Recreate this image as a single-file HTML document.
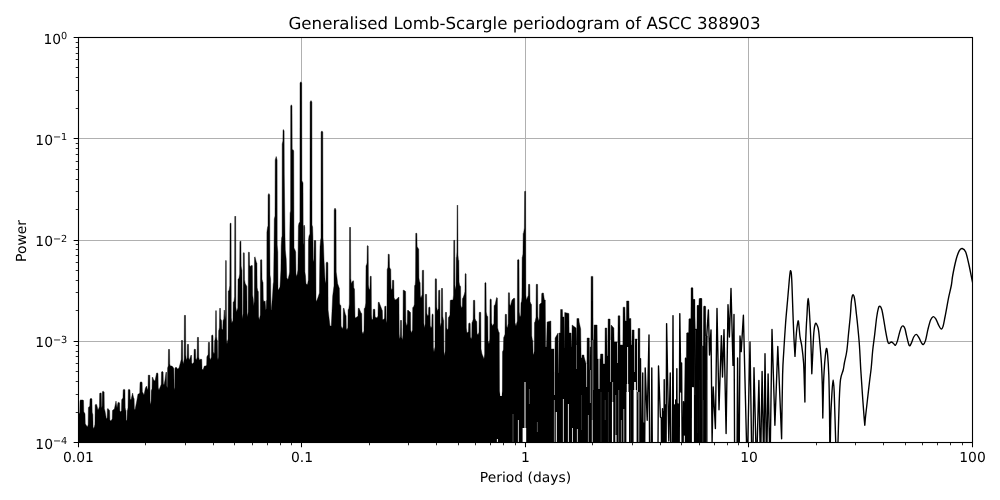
<!DOCTYPE html>
<html lang="en">
<head>
<meta charset="utf-8">
<title>Generalised Lomb-Scargle periodogram of ASCC 388903</title>
<style>
html,body{margin:0;padding:0;background:#fff;overflow:hidden}
svg{display:block;filter:grayscale(1)}
</style>
</head>
<body>
<svg width="1000" height="500" viewBox="0 0 1000 500">
<defs><clipPath id="ax"><rect x="78.5" y="37.5" width="894.0" height="405.0"/></clipPath></defs>
<rect width="1000" height="500" fill="#fff"/>
<path d="M78.50 37.5V442.5M301.50 37.5V442.5M525.50 37.5V442.5M748.50 37.5V442.5M972.50 37.5V442.5M78.5 442.50H972.5M78.5 341.50H972.5M78.5 240.50H972.5M78.5 138.50H972.5M78.5 37.50H972.5" stroke="#b0b0b0" stroke-width="1" fill="none"/>
<g clip-path="url(#ax)">
<path d="M78.40 447.5L78.40 419.00L79.00 414.00L79.76 412.32L80.00 400.50L80.60 400.00L83.00 400.00L83.51 400.50L83.75 411.44L84.40 413.00L85.00 413.50L85.24 423.56L86.00 425.00L87.40 427.00L88.16 424.60L88.40 407.50L89.00 407.00L89.76 405.99L90.00 399.10L90.60 398.60L91.60 398.60L91.93 399.10L92.17 412.15L92.60 414.00L92.84 414.50L93.08 426.67L93.40 428.40L94.40 427.00L94.94 424.29L95.18 404.90L95.60 404.40L96.60 404.40L98.00 410.00L99.00 408.00L99.43 406.20L99.67 393.50L100.00 393.00L101.00 393.00L101.24 393.50L101.48 406.20L101.80 408.00L102.12 406.01L102.36 391.90L102.60 391.40L103.60 391.40L104.11 391.90L104.35 408.65L105.00 411.00L106.40 419.00L107.16 417.73L107.40 408.90L108.00 408.40L109.00 410.00L109.60 410.50L109.84 419.68L110.60 421.00L111.60 420.00L112.25 418.80L112.49 410.50L113.00 410.00L114.40 409.00L116.00 401.00L117.00 408.00L118.00 402.40L119.00 402.40L119.60 402.90L119.84 410.85L120.60 412.00L121.47 410.44L121.71 399.50L122.40 399.00L122.94 397.85L123.18 389.90L123.60 389.40L124.60 389.40L124.93 389.90L125.17 407.53L125.60 410.00L125.93 410.50L126.17 419.68L126.60 421.00L127.03 419.68L127.27 410.50L127.60 410.00L128.03 407.53L128.27 389.90L128.60 389.40L129.40 389.40L130.00 389.90L130.24 398.73L131.00 400.00L132.60 393.00L133.60 398.00L134.11 398.50L134.35 408.56L135.00 410.00L136.60 402.00L138.00 394.00L139.00 394.00L139.76 392.56L140.00 382.50L140.60 382.00L141.60 382.00L142.11 382.50L142.35 391.68L143.00 393.00L144.00 395.00L145.40 388.00L146.60 386.00L147.60 390.00L148.03 388.20L148.27 375.50L148.60 375.00L149.40 375.00L149.82 375.50L150.06 400.87L150.60 404.40L151.03 402.67L151.27 390.50L151.60 390.00L152.03 388.44L152.27 377.50L152.60 377.00L153.60 380.00L155.00 381.00L156.60 373.00L157.40 373.00L158.00 373.50L158.24 387.96L159.00 390.00L160.60 386.00L161.25 384.27L161.49 372.10L162.00 371.60L162.60 371.60L163.11 372.10L163.35 383.39L164.00 385.00L165.00 380.00L166.00 372.00L166.51 372.50L166.75 386.08L167.40 388.00L167.60 368.00L168.25 365.72L168.49 349.50L169.00 349.00L169.51 349.50L169.75 363.96L170.40 366.00L172.00 366.00L173.60 368.00L173.84 368.50L174.08 387.36L174.40 390.00L174.72 387.36L174.96 368.50L175.20 368.00L176.00 367.00L177.60 369.00L179.00 368.00L180.60 362.00L181.25 359.36L181.49 340.50L182.00 340.00L182.51 340.50L182.75 361.12L183.40 364.00L184.16 359.00L184.40 315.50L185.00 315.00L185.51 315.50L185.75 355.00L186.40 360.00L187.16 358.08L187.40 344.50L188.00 344.00L188.51 344.50L188.75 358.08L189.40 360.00L191.00 355.00L191.51 355.50L191.75 362.92L192.40 364.00L193.88 362.20L194.12 349.50L195.00 349.00L195.51 349.50L195.75 358.68L196.40 360.00L197.16 357.24L197.40 337.50L198.00 337.00L198.51 337.50L198.75 357.24L199.40 360.00L201.00 359.00L201.78 359.50L202.02 368.68L203.00 370.00L204.40 366.00L206.00 366.00L206.65 364.80L206.89 356.50L207.40 356.00L208.16 354.32L208.40 342.50L209.00 342.00L209.51 342.50L209.75 357.84L210.40 360.00L211.38 357.00L211.62 335.50L212.40 335.00L213.00 335.50L213.24 351.72L214.00 354.00L214.43 352.32L214.67 340.50L215.00 340.00L215.43 336.45L215.67 310.90L216.00 310.40L216.33 310.90L216.57 336.45L217.00 340.00L217.33 340.50L217.57 357.60L218.00 360.00L218.43 356.40L218.67 330.50L219.00 330.00L219.43 327.36L219.67 308.50L220.00 308.00L220.42 308.50L220.66 318.56L221.20 320.00L221.62 320.50L221.86 328.80L222.40 330.00L222.83 328.80L223.07 320.50L223.40 320.00L223.83 318.80L224.07 310.50L224.40 310.00L225.00 320.00L225.38 315.00L225.62 260.80L225.90 260.30L226.28 260.80L226.52 339.00L227.00 344.00L228.03 339.00L228.28 290.90L229.10 290.40L229.80 285.40L230.04 223.50L230.60 223.00L231.06 223.50L231.31 318.00L231.90 323.00L232.94 320.43L233.18 302.10L234.00 301.60L234.54 296.60L234.78 216.50L235.20 216.00L235.66 216.50L235.91 307.00L236.50 312.00L237.78 307.98L238.02 279.00L238.90 278.50L239.66 274.00L239.90 241.50L240.50 241.00L240.92 241.50L241.16 265.99L241.70 269.40L241.94 269.90L242.18 314.00L242.50 319.00L243.09 314.00L243.34 253.10L243.80 252.60L244.31 253.10L244.55 279.70L245.20 283.40L246.60 286.00L246.84 286.50L247.08 313.28L247.40 317.00L248.16 312.00L248.40 252.40L249.00 251.90L249.38 252.40L249.62 264.84L250.10 266.60L251.90 265.20L252.36 265.70L252.60 294.94L253.20 299.00L253.70 306.00L254.29 301.00L254.53 257.30L255.00 256.80L256.40 262.40L256.91 262.90L257.15 287.57L257.80 291.00L258.36 291.50L258.60 316.52L259.30 320.00L260.28 315.00L260.52 260.10L261.30 259.60L261.81 260.10L262.05 279.31L262.70 282.00L263.03 282.50L263.27 299.25L263.70 301.60L265.10 301.00L265.80 310.00L266.23 308.80L266.47 300.50L266.80 300.00L266.90 232.00L267.60 227.00L268.00 226.00L268.10 195.00L268.90 193.50L269.70 195.00L269.80 240.00L270.00 275.00L270.60 279.00L271.00 310.00L271.30 310.00L272.50 296.00L273.20 284.00L273.60 282.00L274.00 250.00L274.30 219.00L275.00 216.00L275.20 160.00L276.20 156.50L277.10 160.00L277.20 245.00L277.80 252.00L278.00 290.00L278.30 290.00L280.00 287.00L280.90 270.00L281.20 246.00L281.60 238.00L282.10 236.00L282.20 144.00L282.90 141.00L283.00 130.50L283.40 129.50L284.10 131.00L284.30 175.00L285.00 236.00L285.30 250.00L286.20 259.00L286.80 278.00L288.00 279.50L289.30 274.00L289.60 272.00L289.80 234.00L290.10 213.00L290.60 211.00L290.70 106.00L291.30 104.80L292.00 106.00L292.20 150.00L293.00 149.60L293.70 151.00L294.00 248.00L295.00 250.00L295.70 252.00L296.00 274.00L296.80 276.50L297.60 272.00L297.90 270.00L298.40 226.00L299.00 223.00L299.90 222.00L300.00 83.00L300.90 81.80L301.70 83.00L301.90 181.00L302.50 181.80L303.00 183.00L303.20 243.00L303.60 245.00L303.70 226.00L304.20 225.00L304.70 227.00L304.90 272.00L305.50 276.00L306.00 284.00L307.50 284.50L308.30 280.00L308.50 240.00L309.00 236.00L309.90 234.00L310.10 102.00L311.00 100.60L311.90 102.00L312.00 225.00L312.60 227.00L312.90 236.00L313.20 260.00L313.70 262.00L314.00 258.00L314.20 241.00L315.00 240.00L315.80 241.00L316.00 300.00L316.40 301.60L318.00 297.40L319.40 293.00L319.70 266.00L320.00 247.00L320.60 240.00L321.00 238.00L321.10 132.00L321.90 130.90L322.80 132.00L323.00 238.00L323.50 245.00L324.00 260.00L325.00 279.00L325.60 283.50L326.00 281.00L326.20 263.00L327.00 261.80L327.90 263.00L328.10 310.00L330.00 326.00L331.30 326.00L332.70 296.00L333.70 288.00L334.00 286.00L334.20 210.00L335.00 208.00L336.00 210.00L336.20 272.00L337.00 278.00L337.60 283.40L339.00 287.60L339.33 288.10L339.57 302.91L340.00 305.00L340.88 305.50L341.12 326.12L342.40 329.00L343.10 326.48L343.34 308.50L343.90 308.00L345.50 315.00L346.06 315.50L346.30 328.20L347.00 330.00L347.87 327.48L348.11 309.50L348.80 309.00L349.34 304.00L349.58 227.50L350.00 227.00L350.51 227.50L350.75 278.40L351.40 283.40L353.00 280.60L353.56 281.10L353.80 287.99L354.50 289.00L355.00 318.00L357.00 317.00L357.98 315.92L358.22 308.50L359.00 308.00L361.00 313.00L361.78 313.50L362.02 331.48L363.00 334.00L363.98 330.88L364.22 308.50L365.00 308.00L365.76 303.00L366.00 265.50L366.60 265.00L367.03 262.67L367.27 246.10L367.60 245.60L368.20 246.10L368.44 285.00L369.20 290.00L369.96 288.32L370.20 276.50L370.80 276.00L371.22 276.50L371.46 315.00L372.00 320.00L372.98 318.68L373.22 309.50L374.00 309.00L374.88 309.50L375.12 316.92L377.00 318.00L377.98 316.08L378.22 302.50L379.00 302.00L382.00 310.00L382.33 310.50L382.57 318.80L383.00 320.00L384.48 318.32L384.72 306.50L385.60 306.00L385.93 306.50L386.17 320.96L386.60 323.00L386.92 318.00L387.16 269.50L387.40 269.00L387.94 267.20L388.18 254.50L388.60 254.00L389.29 254.50L389.53 267.20L390.40 269.00L390.77 269.50L391.01 287.48L391.50 290.00L392.20 288.80L392.44 280.50L393.00 280.00L393.78 280.50L394.02 297.60L395.00 300.00L397.00 299.00L398.60 297.00L398.93 297.50L399.17 334.00L399.60 339.00L400.25 336.72L400.49 320.50L401.00 320.00L401.51 320.50L401.75 337.60L402.40 340.00L402.94 335.00L403.18 290.50L403.60 290.00L405.00 291.00L405.60 291.50L405.84 321.80L406.60 326.00L407.25 324.08L407.49 310.50L408.00 310.00L410.00 312.00L410.51 312.50L410.75 330.48L411.40 333.00L412.49 329.88L412.73 307.50L413.60 307.00L414.36 304.36L414.60 285.50L415.20 285.00L415.52 280.00L415.76 233.50L416.00 233.00L416.87 233.50L417.11 246.55L418.20 248.40L418.71 248.90L418.95 277.97L419.60 282.00L420.11 282.50L420.35 296.08L421.00 298.00L422.09 294.64L422.33 270.50L423.20 270.00L423.62 270.50L423.86 323.00L424.40 328.00L425.16 323.92L425.40 294.50L426.00 294.00L426.60 294.50L426.84 313.36L427.60 316.00L428.47 314.92L428.71 307.50L429.40 307.00L430.00 307.50L430.24 325.48L431.00 328.00L431.76 326.32L432.00 314.50L432.60 314.00L433.11 314.50L433.35 347.44L434.00 352.00L434.98 347.00L435.22 279.10L436.00 278.60L436.51 279.10L436.75 307.11L437.40 311.00L438.38 308.48L438.62 290.50L439.40 290.00L439.82 290.50L440.06 322.56L440.60 327.00L441.25 322.32L441.49 288.50L442.00 288.00L442.51 288.50L442.75 316.16L443.40 320.00L443.73 320.50L443.97 351.68L444.40 356.00L445.16 351.00L445.40 312.50L446.00 312.00L446.51 312.50L446.75 327.84L447.40 330.00L448.16 328.44L448.40 317.50L449.00 317.00L449.98 314.96L450.22 300.50L451.00 300.00L453.00 300.00L453.54 295.00L453.78 240.50L454.20 240.00L454.71 240.50L454.95 285.00L455.60 290.00L456.03 286.04L456.27 257.50L456.60 257.00L456.92 252.00L457.16 205.50L457.40 205.00L457.73 205.50L457.97 255.00L458.40 260.00L458.82 260.50L459.06 282.00L459.60 285.00L460.00 286.00L460.60 286.50L460.84 305.36L461.60 308.00L462.25 306.80L462.49 298.50L463.00 298.00L464.40 294.00L464.94 291.53L465.18 273.90L465.60 273.40L466.11 273.90L466.35 328.00L467.00 333.00L468.48 331.80L468.72 323.50L469.60 323.00L470.20 323.50L470.44 337.08L471.20 339.00L471.74 336.96L471.98 322.50L472.40 322.00L473.16 319.36L473.40 300.50L474.00 300.00L474.78 300.50L475.02 318.48L476.00 321.00L476.78 321.50L477.02 333.32L478.00 335.00L478.98 332.24L479.22 312.50L480.00 312.00L480.78 312.50L481.02 349.00L482.00 354.00L484.00 359.00L484.65 354.00L484.89 282.90L485.40 282.40L486.00 282.90L486.24 311.97L487.00 316.00L487.78 316.50L488.02 340.64L489.00 344.00L489.76 339.00L490.00 299.50L490.60 299.00L491.29 299.50L491.53 322.76L492.40 326.00L493.88 323.48L494.12 305.50L495.00 305.00L496.60 297.60L497.38 298.10L497.62 327.87L498.60 332.00L499.25 332.50L499.49 391.00L500.30 396.00L501.70 396.00L502.30 391.00L502.54 351.50L503.00 351.00L503.43 349.32L503.67 337.50L504.00 337.00L504.98 334.24L505.22 314.50L506.00 314.00L506.51 314.50L506.75 326.32L507.40 328.00L508.16 323.73L508.40 292.90L509.00 292.40L509.51 292.90L509.75 304.37L510.40 306.00L512.00 300.00L514.00 298.00L514.78 298.50L515.02 322.64L516.00 326.00L517.28 321.00L517.52 259.90L518.40 259.40L519.00 259.90L519.24 312.00L520.00 317.00L520.76 315.20L521.00 302.50L521.60 302.00L521.92 297.00L522.16 257.50L522.40 257.00L522.94 254.12L523.18 233.50L523.60 233.00L524.36 228.00L524.60 191.50L525.20 191.00L525.62 191.50L525.86 295.00L526.40 300.00L527.60 297.00L528.25 295.44L528.49 284.50L529.00 284.00L529.78 284.50L530.02 301.60L531.00 304.00L531.51 304.50L531.75 335.68L532.40 340.00L532.82 340.50L533.06 353.20L533.60 355.00L534.25 351.04L534.49 322.50L535.00 322.00L535.98 317.44L536.22 284.50L537.00 284.00L537.60 284.50L537.84 316.56L538.60 321.00L539.25 318.96L539.49 304.50L540.00 304.00L541.48 302.68L541.72 293.50L542.60 293.00L543.40 293.00L544.40 300.00L545.12 300.00L545.28 300.00L545.62 347.00L546.48 347.00L547.12 322.00L550.88 321.00L551.12 349.00L554.08 349.00L554.42 372.00L554.78 372.00L555.12 338.00L558.08 333.00L558.42 373.00L558.78 373.00L559.12 333.00L560.38 333.00L560.62 309.50L562.38 309.50L562.62 317.00L563.98 317.00L564.32 348.00L564.48 348.00L564.72 312.50L568.88 313.50L569.12 333.00L571.08 333.00L571.42 347.00L571.68 347.00L572.12 325.00L576.08 328.00L576.42 345.00L576.58 345.00L576.92 318.50L578.88 318.50L579.12 322.00L580.68 329.00L581.12 358.00L581.88 358.00L582.12 355.00L583.88 355.00L584.12 357.00L586.08 364.00L586.42 387.00L586.78 387.00L587.12 338.00L589.28 338.00L589.62 370.00L589.88 370.00L590.12 347.00L590.88 347.00L591.12 276.40L592.88 276.40L593.12 340.00L593.88 340.00L594.12 325.00L597.08 325.00L597.42 359.00L598.48 359.00L598.82 389.00L599.28 389.00L599.62 359.00L600.28 359.00L600.62 354.00L602.88 354.00L603.12 364.00L604.88 364.00L605.12 328.00L606.78 328.00L607.12 356.00L607.78 356.00L608.12 319.00L610.08 319.00L610.42 382.00L610.68 382.00L611.12 325.00L613.88 328.00L614.12 342.00L617.08 342.00L617.42 363.00L617.68 363.00L618.12 315.80L619.88 315.80L620.12 345.00L622.88 345.00L623.12 307.20L624.88 307.20L625.12 321.00L626.38 321.00L626.62 301.00L628.88 301.00L629.12 318.50L630.88 318.50L631.12 345.00L631.88 345.00L632.12 330.00L634.08 330.00L634.42 370.00L634.68 370.00L635.12 339.00L637.08 339.00L637.42 400.00L637.68 400.00L638.12 328.50L639.88 328.50L640.0 447.5Z" fill="#000" stroke="#000" stroke-width="0.4" stroke-linejoin="round"/>
<path d="M685.00 447.5L685.12 358.20L686.38 358.20L686.62 333.00L688.68 333.00L688.92 319.00L690.88 319.00L691.12 288.00L692.88 288.00L693.12 299.60L694.88 299.60L695.12 329.00L696.88 329.00L697.12 305.60L698.88 305.60L699.12 298.60L701.88 298.60L702.12 346.00L703.38 346.00L703.62 306.40L705.58 306.40L705.82 336.00L707.28 336.00L707.40 447.5Z" fill="#000" stroke="#000" stroke-width="0.4" stroke-linejoin="round"/>
<path d="M501.0 353V396" stroke="#fff" stroke-width="1.3" fill="none"/>
<path d="M497.4 439V443" stroke="#fff" stroke-width="1.0" fill="none"/>
<path d="M513.0 414V443" stroke="#888" stroke-width="0.6" fill="none"/>
<path d="M518.4 420V443" stroke="#fff" stroke-width="0.8" fill="none"/>
<path d="M525.0 382V443" stroke="#fff" stroke-width="1.0" fill="none"/>
<path d="M524.4 428V443" stroke="#fff" stroke-width="3.6" fill="none"/>
<path d="M529.4 389V404" stroke="#888" stroke-width="0.6" fill="none"/>
<path d="M537.4 422V432" stroke="#888" stroke-width="0.6" fill="none"/>
<path d="M554.5 349V395" stroke="#bbb" stroke-width="0.7" fill="none"/>
<path d="M554.4 400V443" stroke="#999" stroke-width="0.8" fill="none"/>
<path d="M556.3 412V443" stroke="#fff" stroke-width="1.0" fill="none"/>
<path d="M563.4 399V443" stroke="#fff" stroke-width="0.8" fill="none"/>
<path d="M568.4 404V443" stroke="#fff" stroke-width="0.9" fill="none"/>
<path d="M572.5 428V443" stroke="#ddd" stroke-width="0.9" fill="none"/>
<path d="M577.4 429V443" stroke="#ddd" stroke-width="0.9" fill="none"/>
<path d="M576.5 345V369" stroke="#999" stroke-width="0.6" fill="none"/>
<path d="M588.4 415V443" stroke="#aaa" stroke-width="0.8" fill="none"/>
<path d="M590.4 370V403" stroke="#999" stroke-width="0.8" fill="none"/>
<path d="M592.3 340V420" stroke="#999" stroke-width="0.7" fill="none"/>
<path d="M592.3 420V443" stroke="#ddd" stroke-width="0.9" fill="none"/>
<path d="M593.3 340V390" stroke="#666" stroke-width="0.6" fill="none"/>
<path d="M601.0 392V443" stroke="#555" stroke-width="0.5" fill="none"/>
<path d="M608.4 392V443" stroke="#555" stroke-width="0.5" fill="none"/>
<path d="M612.6 382V402" stroke="#bbb" stroke-width="0.8" fill="none"/>
<path d="M612.6 402V443" stroke="#fff" stroke-width="1.3" fill="none"/>
<path d="M615.7 395V435" stroke="#999" stroke-width="0.7" fill="none"/>
<path d="M615.9 435V443" stroke="#fff" stroke-width="1.2" fill="none"/>
<path d="M618.7 390V443" stroke="#888" stroke-width="0.7" fill="none"/>
<path d="M621.4 420V443" stroke="#999" stroke-width="0.8" fill="none"/>
<path d="M623.8 409V443" stroke="#aaa" stroke-width="1.0" fill="none"/>
<path d="M627.6 347V384" stroke="#fff" stroke-width="0.9" fill="none"/>
<path d="M627.6 384V392" stroke="#fff" stroke-width="1.7" fill="none"/>
<path d="M627.7 392V443" stroke="#fff" stroke-width="2.6" fill="none"/>
<path d="M630.5 390V443" stroke="#333" stroke-width="0.6" fill="none"/>
<path d="M635.0 382V390" stroke="#fff" stroke-width="1.6" fill="none"/>
<path d="M635.1 390V443" stroke="#fff" stroke-width="3.0" fill="none"/>
<path d="M634.5 340V372" stroke="#ccc" stroke-width="0.6" fill="none"/>
<path d="M637.5 340V392" stroke="#eee" stroke-width="0.7" fill="none"/>
<path d="M639.0 392V443" stroke="#aaa" stroke-width="1.4" fill="none"/>
<path d="M586.6 364V387" stroke="#ddd" stroke-width="0.6" fill="none"/>
<path d="M599.0 359V389" stroke="#fff" stroke-width="0.7" fill="none"/>
<path d="M610.5 340V382" stroke="#ddd" stroke-width="0.6" fill="none"/>
<path d="M617.5 343V363" stroke="#ddd" stroke-width="0.6" fill="none"/>
<path d="M605.2 400V420" stroke="#777" stroke-width="0.5" fill="none"/>
<path d="M581.5 395V430" stroke="#555" stroke-width="0.5" fill="none"/>
<path d="M692.9 387V443" stroke="#fff" stroke-width="2.0" fill="none"/>
<path d="M696.6 400V433" stroke="#fff" stroke-width="0.9" fill="none"/>
<path d="M698.6 398V443" stroke="#999" stroke-width="0.5" fill="none"/>
<path d="M700.3 380V443" stroke="#777" stroke-width="0.5" fill="none"/>
<path d="M701.9 346V443" stroke="#bbb" stroke-width="0.6" fill="none"/>
<path d="M703.4 400V443" stroke="#888" stroke-width="0.5" fill="none"/>
<path d="M705.8 336V443" stroke="#ccc" stroke-width="0.7" fill="none"/>
<path d="M707.3 380V443" stroke="#999" stroke-width="0.5" fill="none"/>
<path d="M690.6 418V430" stroke="#fff" stroke-width="0.8" fill="none"/>
<path d="M687.2 395V443" stroke="#666" stroke-width="0.5" fill="none"/>
<path d="M689.1 400V443" stroke="#555" stroke-width="0.4" fill="none"/>
<path d="M695.2 330V395" stroke="#aaa" stroke-width="0.5" fill="none"/>
<path d="M640.0 470.0L640.50 358.75L641.62 510.00L642.75 373.00L643.24 501.81L643.73 423.30L644.47 481.06L645.20 368.00L647.20 420.30L649.00 335.00L649.80 495.00L651.00 495.00L651.80 368.00L652.60 495.00L657.70 495.00L658.50 366.00L660.40 417.00L661.30 418.00L661.90 510.00L662.50 408.75L662.95 438.00L663.40 412.00L663.80 501.38L664.20 379.60L664.80 465.37L665.40 405.00L666.00 469.96L666.60 323.60L668.80 441.00L670.25 373.00L671.05 495.00L672.20 495.00L673.00 315.60L673.75 510.00L674.50 405.00L675.10 510.00L675.70 400.00L676.28 472.24L676.85 368.65L677.42 498.11L678.00 404.00L678.90 510.00L679.80 313.60L680.90 392.00L681.60 363.00L682.55 510.00L683.50 401.60L684.50 435.00L685.65 358.20L686.83 510.00L688.00 333.00L689.00 465.27L690.00 319.00L690.60 430.00L692.00 288.00L693.10 386.80L694.00 299.60L696.60 433.00L698.00 305.60L698.80 495.00L700.00 495.00L700.80 298.60L701.60 495.00L703.80 495.00L704.60 306.40L705.41 510.00L706.22 349.90L706.60 338.00L708.40 310.00L709.50 355.00L711.00 330.00L712.10 442.25L713.20 387.00L715.40 428.50L717.00 308.40L719.00 409.85L721.40 335.60L722.50 377.00L724.00 329.60L726.10 433.50L728.00 304.60L729.40 337.00L731.00 288.40L733.00 365.40L734.00 314.40L734.80 495.00L736.80 495.00L737.60 358.00L738.80 510.00L740.00 336.00L741.20 351.60L743.40 315.20L747.20 470.00L750.00 342.00L752.40 500.00L754.00 367.80L756.50 470.00L758.90 380.40L760.50 470.00L762.10 371.50L763.80 470.00L765.00 353.65L766.60 470.00L768.10 374.00L770.00 470.00L772.00 329.40L774.90 425.20L777.80 346.45L781.60 438.80L781.60 438.80C781.77 428.17 782.23 389.63 782.60 375.00C782.97 360.37 783.30 359.67 783.80 351.00C784.30 342.33 784.97 331.50 785.60 323.00C786.23 314.50 786.98 307.17 787.60 300.00C788.22 292.83 788.88 284.58 789.30 280.00C789.72 275.42 789.88 274.07 790.10 272.50C790.33 270.93 790.45 270.52 790.65 270.60C790.85 270.68 791.09 270.93 791.30 273.00C791.51 275.07 791.68 278.00 791.90 283.00C792.12 288.00 792.38 296.83 792.60 303.00C792.82 309.17 792.97 314.00 793.20 320.00C793.43 326.00 793.70 332.93 794.00 339.00C794.30 345.07 794.83 353.50 795.00 356.40L795.00 356.40C795.23 352.50 795.98 338.40 796.40 333.00C796.82 327.60 797.15 325.90 797.50 324.00C797.85 322.10 798.08 319.50 798.50 321.60C798.92 323.70 799.45 332.50 800.00 336.60C800.55 340.70 801.20 341.80 801.80 346.20C802.40 350.60 803.17 356.53 803.60 363.00C804.03 369.47 804.18 378.50 804.40 385.00C804.62 391.50 804.82 399.17 804.90 402.00L804.90 402.00C804.98 393.50 805.17 363.50 805.40 351.00C805.63 338.50 806.03 333.00 806.30 327.00C806.57 321.00 806.78 319.00 807.00 315.00C807.22 311.00 807.40 305.77 807.60 303.00C807.80 300.23 808.00 298.40 808.20 298.40C808.40 298.40 808.57 300.23 808.80 303.00C809.03 305.77 809.27 309.00 809.60 315.00C809.93 321.00 810.43 329.20 810.80 339.00C811.17 348.80 811.63 368.00 811.80 373.80L811.80 373.80C811.93 371.00 812.27 363.80 812.60 357.00C812.93 350.20 813.33 338.57 813.80 333.00C814.27 327.43 814.80 324.80 815.40 323.60C816.00 322.40 816.87 324.63 817.40 325.80C817.93 326.97 818.20 327.80 818.60 330.60C819.00 333.40 819.33 337.20 819.80 342.60C820.27 348.00 820.98 355.93 821.40 363.00C821.82 370.07 822.07 375.83 822.30 385.00C822.53 394.17 822.72 412.50 822.80 418.00L822.80 418.00C822.92 412.50 823.27 393.00 823.50 385.00C823.73 377.00 823.92 374.67 824.20 370.00C824.48 365.33 824.83 360.60 825.20 357.00C825.57 353.40 826.00 348.80 826.40 348.40C826.80 348.00 827.20 350.17 827.60 354.60C828.00 359.03 828.48 365.77 828.80 375.00C829.12 384.23 829.30 394.17 829.50 410.00C829.70 425.83 829.92 460.00 830.00 470.00L830.00 470.00C830.12 461.67 830.37 433.00 830.70 420.00C831.03 407.00 831.60 398.67 832.00 392.00C832.40 385.33 832.73 380.00 833.10 380.00C833.47 380.00 833.77 381.67 834.20 392.00C834.63 402.33 835.25 429.00 835.70 442.00C836.15 455.00 836.70 465.33 836.90 470.00L836.90 470.00C837.08 465.33 837.62 453.33 838.00 442.00C838.38 430.67 838.78 412.40 839.20 402.00C839.62 391.60 839.83 384.93 840.50 379.60C841.17 374.27 842.55 372.77 843.20 370.00C843.85 367.23 843.80 366.17 844.40 363.00C845.00 359.83 846.10 356.00 846.80 351.00C847.50 346.00 848.00 339.00 848.60 333.00C849.20 327.00 849.95 320.17 850.40 315.00C850.85 309.83 850.98 305.17 851.30 302.00C851.62 298.83 851.97 297.21 852.30 296.00C852.62 294.79 852.93 294.58 853.25 294.75C853.57 294.92 853.88 295.59 854.20 297.00C854.53 298.41 854.83 300.37 855.20 303.20C855.57 306.03 856.02 310.53 856.40 314.00C856.78 317.47 857.00 318.83 857.50 324.00C858.00 329.17 858.85 337.33 859.40 345.00C859.95 352.67 860.30 361.83 860.80 370.00C861.30 378.17 861.87 386.33 862.40 394.00C862.93 401.67 863.60 410.80 864.00 416.00C864.40 421.20 864.67 423.67 864.80 425.20L864.80 425.20C864.93 423.67 865.20 419.87 865.60 416.00C866.00 412.13 866.53 407.83 867.20 402.00C867.87 396.17 868.93 386.67 869.60 381.00C870.27 375.33 870.68 373.17 871.20 368.00C871.73 362.83 872.17 355.60 872.75 350.00C873.33 344.40 874.05 339.82 874.70 334.40C875.35 328.98 876.04 321.83 876.65 317.50C877.26 313.17 877.81 310.28 878.35 308.40C878.89 306.52 879.32 305.98 879.90 306.20C880.48 306.42 881.20 307.38 881.85 309.70C882.50 312.02 883.15 316.42 883.80 320.10C884.45 323.78 885.10 328.23 885.75 331.80C886.40 335.38 887.16 339.60 887.70 341.55C888.24 343.50 888.39 343.43 889.00 343.50C889.61 343.57 890.59 341.95 891.35 341.95C892.11 341.95 892.86 342.96 893.55 343.50C894.24 344.04 894.85 345.63 895.50 345.20C896.15 344.77 896.80 342.92 897.45 340.90C898.10 338.88 898.75 335.38 899.40 333.10C900.05 330.83 900.74 328.44 901.35 327.25C901.96 326.06 902.46 325.73 903.05 325.95C903.64 326.17 904.32 326.93 904.90 328.55C905.48 330.18 905.95 333.21 906.55 335.70C907.15 338.19 907.96 341.81 908.50 343.50C909.04 345.19 909.26 346.07 909.80 345.85C910.34 345.63 911.10 343.68 911.75 342.20C912.40 340.72 912.94 338.30 913.70 337.00C914.46 335.70 915.43 334.29 916.30 334.40C917.17 334.51 918.03 336.24 918.90 337.65C919.77 339.06 920.78 341.70 921.50 342.85C922.22 344.00 922.55 344.88 923.20 344.55C923.85 344.23 924.60 343.46 925.40 340.90C926.20 338.34 927.13 332.67 928.00 329.20C928.87 325.73 929.73 322.20 930.60 320.10C931.47 318.00 932.33 316.82 933.20 316.60C934.07 316.38 934.93 317.46 935.80 318.80C936.67 320.14 937.53 322.96 938.40 324.65C939.27 326.34 940.24 328.62 941.00 328.95C941.76 329.27 942.30 328.51 942.95 326.60C943.60 324.69 944.25 320.75 944.90 317.50C945.55 314.25 946.20 310.57 946.85 307.10C947.50 303.63 948.04 300.38 948.80 296.70C949.56 293.02 950.75 288.53 951.40 285.00C952.05 281.47 951.93 279.67 952.70 275.50C953.47 271.33 954.92 264.12 956.00 260.00C957.08 255.88 958.17 252.72 959.20 250.80C960.23 248.88 961.12 248.30 962.20 248.50C963.28 248.70 964.57 249.25 965.70 252.00C966.83 254.75 967.92 260.22 969.00 265.00C970.08 269.78 971.37 276.70 972.20 280.70C973.03 284.70 973.70 287.62 974.00 289.00" fill="none" stroke="#000" stroke-width="1.39" stroke-linejoin="round" stroke-linecap="butt"/>
</g>
<path d="M78.50 442.5v4.86M78.5 442.50h-4.86M301.50 442.5v4.86M78.5 341.50h-4.86M525.50 442.5v4.86M78.5 240.50h-4.86M748.50 442.5v4.86M78.5 138.50h-4.86M972.50 442.5v4.86M78.5 37.50h-4.86" stroke="#000" stroke-width="1.05" fill="none"/>
<path d="M145.50 442.5v2.78M78.5 412.50h-2.78M185.50 442.5v2.78M78.5 394.50h-2.78M213.50 442.5v2.78M78.5 381.50h-2.78M234.50 442.5v2.78M78.5 371.50h-2.78M252.50 442.5v2.78M78.5 363.50h-2.78M267.50 442.5v2.78M78.5 356.50h-2.78M280.50 442.5v2.78M78.5 351.50h-2.78M291.50 442.5v2.78M78.5 345.50h-2.78M369.50 442.5v2.78M78.5 310.50h-2.78M408.50 442.5v2.78M78.5 292.50h-2.78M436.50 442.5v2.78M78.5 280.50h-2.78M458.50 442.5v2.78M78.5 270.50h-2.78M475.50 442.5v2.78M78.5 262.50h-2.78M490.50 442.5v2.78M78.5 255.50h-2.78M503.50 442.5v2.78M78.5 249.50h-2.78M515.50 442.5v2.78M78.5 244.50h-2.78M592.50 442.5v2.78M78.5 209.50h-2.78M632.50 442.5v2.78M78.5 191.50h-2.78M660.50 442.5v2.78M78.5 179.50h-2.78M681.50 442.5v2.78M78.5 169.50h-2.78M699.50 442.5v2.78M78.5 161.50h-2.78M714.50 442.5v2.78M78.5 154.50h-2.78M727.50 442.5v2.78M78.5 148.50h-2.78M738.50 442.5v2.78M78.5 143.50h-2.78M816.50 442.5v2.78M78.5 108.50h-2.78M855.50 442.5v2.78M78.5 90.50h-2.78M883.50 442.5v2.78M78.5 77.50h-2.78M905.50 442.5v2.78M78.5 67.50h-2.78M922.50 442.5v2.78M78.5 59.50h-2.78M937.50 442.5v2.78M78.5 53.50h-2.78M950.50 442.5v2.78M78.5 47.50h-2.78M962.50 442.5v2.78M78.5 42.50h-2.78" stroke="#000" stroke-width="0.83" fill="none"/>
<rect x="78.5" y="37.5" width="894.0" height="405.0" fill="none" stroke="#000" stroke-width="1.11"/>
<g font-family="'DejaVu Sans','Liberation Sans',sans-serif" fill="#000" opacity="0.999" style="text-rendering:geometricPrecision">
<text x="524.5" y="29.0" font-size="16.67" text-anchor="middle">Generalised Lomb-Scargle periodogram of ASCC 388903</text>
<text x="78.50" y="462.3" font-size="13.89" text-anchor="middle">0.01</text>
<text x="302.00" y="462.3" font-size="13.89" text-anchor="middle">0.1</text>
<text x="525.50" y="462.3" font-size="13.89" text-anchor="middle">1</text>
<text x="749.00" y="462.3" font-size="13.89" text-anchor="middle">10</text>
<text x="972.50" y="462.3" font-size="13.89" text-anchor="middle">100</text>
<text x="67.3" y="448.50" font-size="13.89" text-anchor="end">10<tspan font-size="9.72" dy="-4.4">−4</tspan></text>
<text x="67.3" y="347.25" font-size="13.89" text-anchor="end">10<tspan font-size="9.72" dy="-4.4">−3</tspan></text>
<text x="67.3" y="246.00" font-size="13.89" text-anchor="end">10<tspan font-size="9.72" dy="-4.4">−2</tspan></text>
<text x="67.3" y="144.75" font-size="13.89" text-anchor="end">10<tspan font-size="9.72" dy="-4.4">−1</tspan></text>
<text x="67.3" y="43.50" font-size="13.89" text-anchor="end">10<tspan font-size="9.72" dy="-4.4">0</tspan></text>
<text x="525.5" y="481.5" font-size="13.89" text-anchor="middle">Period (days)</text>
<text transform="translate(26.0 241.0) rotate(-90)" font-size="13.89" text-anchor="middle">Power</text>
</g>
</svg>
</body>
</html>
